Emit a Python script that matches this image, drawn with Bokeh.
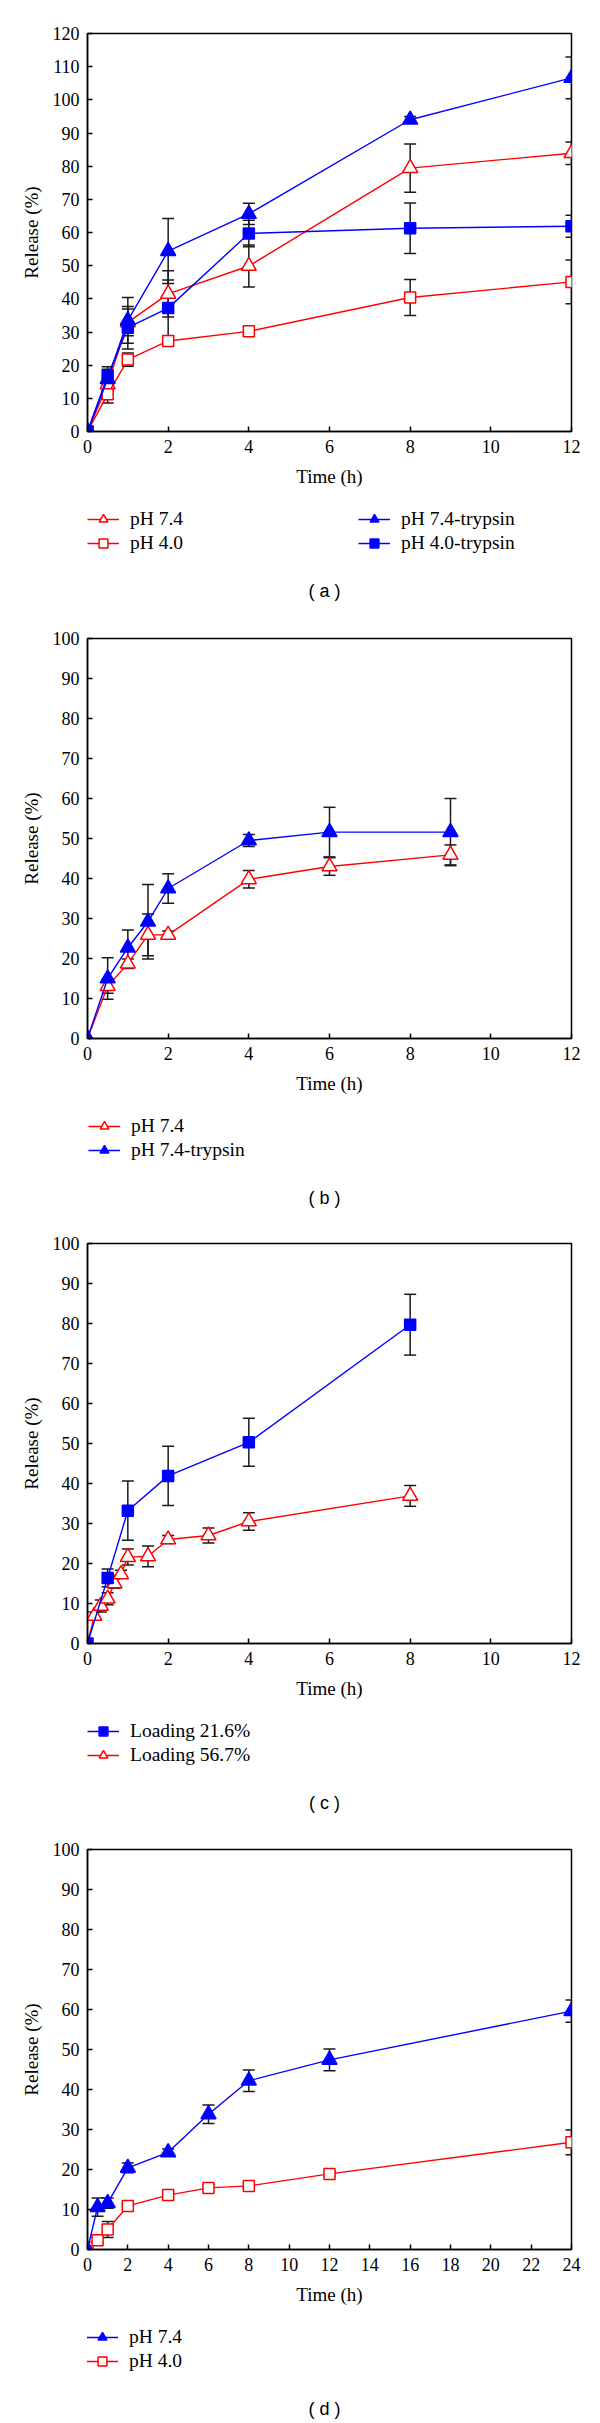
from bokeh.plotting import figure
from bokeh.models import (Range1d, FixedTicker, Legend, LegendItem, Label,
                          Whisker, ColumnDataSource, TeeHead)
from bokeh.layouts import column
from bokeh.embed import file_html
from bokeh.resources import INLINE

# ---------------- data ----------------
# panel (a)
a_time = [0, 0.5, 1, 2, 4, 8, 12]
a_ph74 = [0, 14.2, 32.9, 41.5, 49.9, 79.4, 83.9]
a_ph74_err = [0, 2.0, 4.0, 7.0, 6.3, 7.3, 3.4]
a_ph40 = [0, 11.2, 21.7, 27.3, 30.2, 40.4, 45.1]
a_ph40_err = [0, 2.6, 2.0, 1.5, 1.5, 5.4, 6.6]
a_ph74_tryp = [0, 15.8, 33.5, 54.4, 65.6, 94.0, 106.6]
a_ph74_tryp_err = [0, 3.0, 6.9, 9.8, 3.2, 1.0, 6.3]
a_ph40_tryp = [0, 16.8, 31.3, 37.2, 59.7, 61.3, 61.9]
a_ph40_tryp_err = [0, 2.7, 6.4, 8.5, 4.0, 7.6, 3.3]

# panel (b)
b_time = [0, 0.5, 1, 1.5, 2, 4, 6, 9]
b_ph74 = [0, 13.1, 18.7, 25.9, 25.9, 39.8, 43.0, 45.9]
b_ph74_err = [0, 1.8, 1.2, 5.2, 1.0, 2.2, 2.2, 2.5]
b_ph74_tryp = [0, 15.0, 22.7, 29.2, 37.5, 49.5, 51.6, 51.6]
b_ph74_tryp_err = [0, 5.2, 4.4, 9.3, 3.7, 1.5, 6.2, 8.4]

# panel (c)
c_time_216 = [0, 0.5, 1, 2, 4, 8]
c_load216 = [0, 16.4, 33.2, 41.9, 50.3, 79.7]
c_load216_err = [0, 2.2, 7.4, 7.4, 6.0, 7.6]
c_time_567 = [0, 0.17, 0.33, 0.5, 0.67, 0.83, 1, 1.5, 2, 3, 4, 8]
c_load567 = [0, 6.9, 9.4, 11.2, 15.0, 17.3, 21.6, 21.8, 26.0, 27.0, 30.5, 36.9]
c_load567_err = [0, 1.0, 1.5, 1.5, 1.2, 1.0, 2.0, 2.6, 1.0, 1.9, 2.2, 2.6]

# panel (d)
d_time = [0, 0.5, 1, 2, 4, 6, 8, 12, 24]
d_ph74 = [0, 10.6, 11.6, 20.4, 24.3, 33.8, 42.2, 47.4, 59.6]
d_ph74_err = [0, 2.3, 1.3, 1.2, 0.8, 2.3, 2.7, 2.7, 2.8]
d_ph40 = [0.5, 2.3, 5.0, 10.9, 13.6, 15.4, 15.9, 18.9, 26.8]
d_ph40_err = [0, 0.8, 2.0, 1.0, 0.8, 0.8, 0.6, 0.5, 3.1]

# ---------------- style ----------------
RED = "#ff0000"
BLUE = "#0000ff"
ERR = "#1a1a1a"
SERIF = "Liberation Serif"
SANS = "Liberation Sans"
TRI = 15
SQ = 11
LEFT = 87
RIGHT = 29


def make_panel(height, border_top, xmax, ymax):
    p = figure(width=600, height=height,
               x_range=Range1d(0, xmax), y_range=Range1d(0, ymax),
               output_backend="svg", toolbar_location=None,
               min_border_left=LEFT, min_border_right=RIGHT,
               min_border_top=border_top, min_border_bottom=65)
    p.grid.visible = False
    p.outline_line_color = "black"
    p.outline_line_width = 1.5
    p.outline_line_alpha = 1.0
    p.background_fill_color = "white"
    p.border_fill_color = "white"
    for ax in (p.xaxis[0], p.yaxis[0]):
        ax.axis_line_color = "black"
        ax.axis_line_width = 1.5
        ax.major_tick_line_color = "black"
        ax.major_tick_line_width = 1.5
        ax.major_tick_in = 5
        ax.major_tick_out = 0
        ax.minor_tick_line_color = None
        ax.major_label_text_font = SERIF
        ax.major_label_text_font_size = "18px"
        ax.major_label_text_color = "black"
        ax.axis_label_text_font = SERIF
        ax.axis_label_text_font_size = "19px"
        ax.axis_label_text_font_style = "normal"
        ax.axis_label_text_color = "black"
    p.xaxis.ticker = FixedTicker(ticks=list(range(0, xmax + 1, 2)))
    p.yaxis.ticker = FixedTicker(ticks=list(range(0, ymax + 1, 10)))
    p.xaxis.axis_label = "Time (h)"
    p.yaxis.axis_label = "Release (%)"
    p.xaxis.major_label_standoff = 8
    p.yaxis.major_label_standoff = 8
    p.xaxis.axis_label_standoff = 10
    p.yaxis.axis_label_standoff = 8
    return p


def add_series(p, x, y, err, color, marker, filled, size):
    ex = [xx for xx, e in zip(x, err) if e > 0]
    eu = [yy + e for yy, e in zip(y, err) if e > 0]
    el = [yy - e for yy, e in zip(y, err) if e > 0]
    esrc = ColumnDataSource(dict(x=ex, upper=eu, lower=el))
    w = Whisker(source=esrc, base="x", upper="upper", lower="lower",
                line_color=ERR, line_width=1.5,
                upper_head=TeeHead(size=12, line_color=ERR, line_width=1.5),
                lower_head=TeeHead(size=12, line_color=ERR, line_width=1.5))
    p.add_layout(w)
    src = ColumnDataSource(dict(x=x, y=y))
    p.line("x", "y", source=src, line_color=color, line_width=1.4)
    p.scatter("x", "y", source=src, marker=marker, size=size,
              line_color=color, line_width=1.5,
              fill_color=color if filled else "white")
    return dict(x=x, y=y, color=color, marker=marker, filled=filled)


def legend_block(height, columns, caption):
    """Legend strip below a panel. Its x range is set in page pixels
    (frame spans page x LEFT..600-RIGHT), so the series data (hours) never
    falls inside it: the helper renderers only serve as legend samples."""
    lp = figure(width=600, height=height,
                x_range=Range1d(LEFT, 600 - RIGHT), y_range=Range1d(0, 1),
                output_backend="svg", toolbar_location=None,
                x_axis_type=None, y_axis_type=None,
                min_border_left=LEFT, min_border_right=RIGHT,
                min_border_top=0, min_border_bottom=0)
    lp.grid.visible = False
    lp.outline_line_color = None
    lp.background_fill_color = "white"
    lp.border_fill_color = "white"
    for xoff, entries in columns:
        items = []
        for lab, s in entries:
            src = ColumnDataSource(dict(x=s["x"], y=s["y"]))
            lr = lp.line("x", "y", source=src, line_color=s["color"], line_width=1.4)
            sr = lp.scatter("x", "y", source=src, marker=s["marker"], size=10,
                            line_color=s["color"], line_width=1.5,
                            fill_color=s["color"] if s["filled"] else "white")
            items.append(LegendItem(label=lab, renderers=[lr, sr]))
        lg = Legend(items=items, location=(xoff, height - 58), orientation="vertical",
                    glyph_width=32, glyph_height=22, label_height=22,
                    label_standoff=11, spacing=2, padding=0, margin=0,
                    border_line_color=None, background_fill_alpha=0,
                    label_text_font=SERIF, label_text_font_size="19.5px",
                    label_text_color="black")
        lp.add_layout(lg, "center")
    lp.add_layout(Label(x=324, y=height - 94, x_units="data", y_units="screen",
                        text=caption, text_font=SANS, text_font_size="18px",
                        text_color="black", text_align="center",
                        text_baseline="middle"))
    return lp


# panel a
pa = make_panel(496, 33, 12, 120)
sa1 = add_series(pa, a_time, a_ph74, a_ph74_err, RED, "triangle", False, TRI)
sa2 = add_series(pa, a_time, a_ph40, a_ph40_err, RED, "square", False, SQ)
sa3 = add_series(pa, a_time, a_ph74_tryp, a_ph74_tryp_err, BLUE, "triangle", True, TRI)
sa4 = add_series(pa, a_time, a_ph40_tryp, a_ph40_tryp_err, BLUE, "square", True, SQ)
la = legend_block(114, [
    (0, [("pH 7.4", sa1), ("pH 4.0", sa2)]),
    (271, [("pH 7.4-trypsin", sa3), ("pH 4.0-trypsin", sa4)]),
], "( a )")

# panel b
pb = make_panel(493, 28, 12, 100)
sb1 = add_series(pb, b_time, b_ph74, b_ph74_err, RED, "triangle", False, TRI)
sb2 = add_series(pb, b_time, b_ph74_tryp, b_ph74_tryp_err, BLUE, "triangle", True, TRI)
lb = legend_block(112, [
    (1, [("pH 7.4", sb1), ("pH 7.4-trypsin", sb2)]),
], "( b )")

# panel c
pc = make_panel(493, 28, 12, 100)
sc2 = add_series(pc, c_time_567, c_load567, c_load567_err, RED, "triangle", False, TRI)
sc1 = add_series(pc, c_time_216, c_load216, c_load216_err, BLUE, "square", True, SQ)
lc = legend_block(112, [
    (0, [("Loading 21.6%", sc1), ("Loading 56.7%", sc2)]),
], "( c )")

# panel d
pd_ = make_panel(494, 29, 24, 100)
sd2 = add_series(pd_, d_time, d_ph40, d_ph40_err, RED, "square", False, SQ)
sd1 = add_series(pd_, d_time, d_ph74, d_ph74_err, BLUE, "triangle", True, TRI)
ld = legend_block(109, [
    (-1, [("pH 7.4", sd1), ("pH 4.0", sd2)]),
], "( d )")

layout = column(pa, la, pb, lb, pc, lc, pd_, ld, spacing=0)
open("out.html", "w").write(file_html(layout, INLINE))
